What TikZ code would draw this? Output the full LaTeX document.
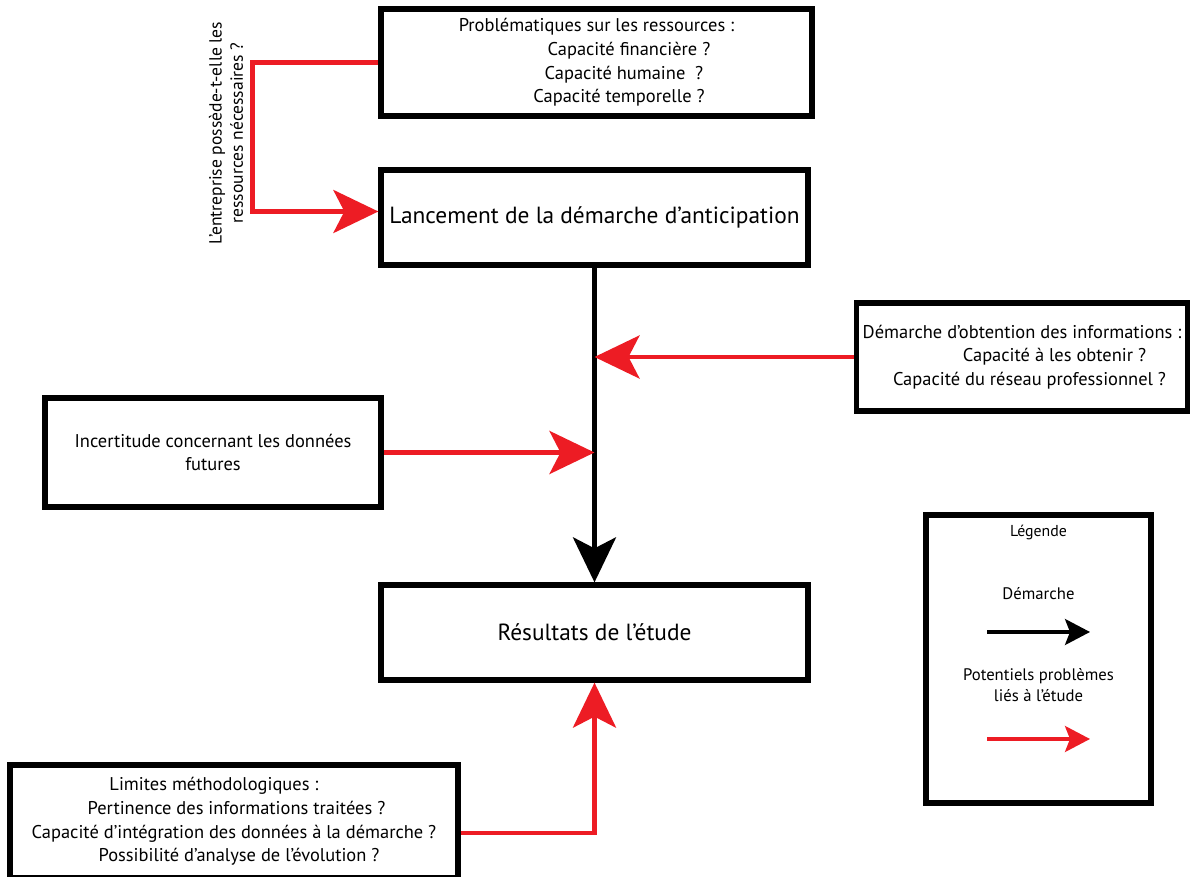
\documentclass[tikz,border=0pt]{standalone}
\usepackage{fontspec}
\setmainfont{PT Sans}
\usepackage{tikz}
\usetikzlibrary{arrows.meta, positioning, calc}

\definecolor{probred}{RGB}{237,28,36}

\begin{document}
\begin{tikzpicture}[
    box/.style={draw, line width=3pt, align=center, font=\fontsize{10.5}{13.5}\selectfont},
    mainbox/.style={box, font=\fontsize{13.3}{16}\selectfont},
    flow/.style={line width=2.6pt, -{Stealth[length=0.9cm, width=0.86cm, inset=0.22cm]}},
    problem/.style={flow, probred},
    legtext/.style={font=\fontsize{9.5}{12}\selectfont, align=center}
]
\useasboundingbox (0,0) rectangle (23.8,17.54);

% Main steps
\node[mainbox, minimum width=8.54cm, minimum height=1.9cm] (launch) at (11.89, 13.19) {Lancement de la démarche d’anticipation};
\node[mainbox, minimum width=8.54cm, minimum height=1.9cm] (results) at (11.89, 4.89) {Résultats de l’étude};

% Problem boxes
\node[box, minimum width=8.62cm, minimum height=2.14cm] (res) at (11.93, 16.29)
    {Problématiques sur les ressources :\\
     \hspace*{1.3cm}Capacité financière ?\\
     \hspace*{1.1cm}Capacité humaine\ \ ?\\
     \hspace*{0.9cm}Capacité temporelle ?};
\node[box, minimum width=6.6cm, minimum height=2.16cm] (info) at (20.44, 10.4)
    {Démarche d’obtention des informations :\\
     \hspace*{1.3cm}Capacité à les obtenir ?\\
     \hspace*{0.3cm}Capacité du réseau professionnel ?};
\node[box, minimum width=6.72cm, minimum height=2.18cm] (uncert) at (4.26, 8.49)
    {Incertitude concernant les données\\ futures};
\node[box, minimum width=8.96cm, minimum height=2.26cm] (limits) at (4.68, 1.11)
    {Limites méthodologiques :\hspace*{0.8cm}\\
     \hspace*{0.1cm}Pertinence des informations traitées ?\\
     Capacité d’intégration des données à la démarche ?\\
     \hspace*{0.2cm}Possibilité d’analyse de l’évolution ?};

% Connectors
\draw[flow] (launch.south) -- (results.north);
\draw[problem] (info.west) -- (info.west -| launch.south);
\draw[problem] (uncert.east) -- (uncert.east -| launch.south);
\draw[problem] ([yshift=-0.23cm]limits.east) -| (results.south);
\draw[problem] (res.west) -- ++(-2.52,0) |- ([yshift=0.12cm]launch.west);
\node[legtext, font=\fontsize{10}{12}\selectfont, rotate=90] (question) at (4.52, 14.88)
    {L’entreprise possède-t-elle les\\ ressources nécessaires ?};

% Legend
\node[draw, line width=3pt, minimum width=4.5cm, minimum height=5.76cm] (legend) at (20.77, 4.36) {};
\node[legtext, font=\fontsize{9}{11}\selectfont] (legtitle) at (20.77, 6.9) {Légende};
\node[legtext] (legflow) at (20.77, 5.66) {Démarche};
\coordinate (flowA) at (19.74, 4.9);
\coordinate (flowB) at (21.8, 4.9);
\draw[line width=1.8pt, -{Stealth[length=0.5cm, width=0.52cm, inset=0.1cm]}] (flowA) -- (flowB);
\node[legtext] (legprob) at (20.77, 3.84) {Potentiels problèmes\\ liés à l’étude};
\coordinate (probA) at (19.74, 2.76);
\coordinate (probB) at (21.8, 2.76);
\draw[probred, line width=1.8pt, -{Stealth[length=0.5cm, width=0.52cm, inset=0.1cm]}] (probA) -- (probB);
\end{tikzpicture}
\end{document}
